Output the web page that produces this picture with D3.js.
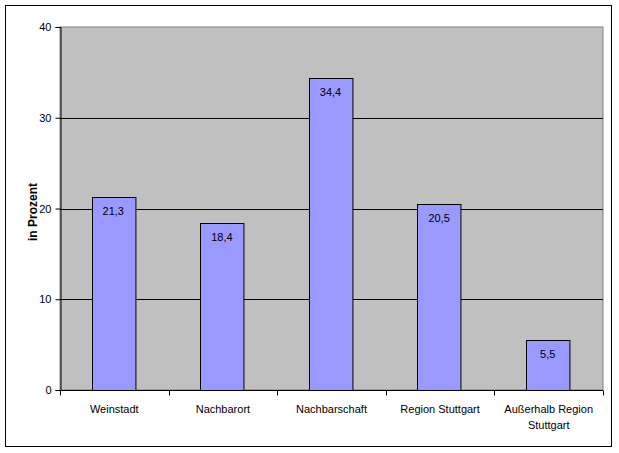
<!DOCTYPE html>
<html>
<head>
<meta charset="utf-8">
<script src="https://cdn.jsdelivr.net/npm/d3@7"></script>
<style>
  body { margin: 0; background: #fff; }
  svg text { font-family: "Liberation Sans", Arial, sans-serif; }
</style>
</head>
<body>
<div id="chart"></div>
<script>
// Chart data
const categories = ['Weinstadt', 'Nachbarort', 'Nachbarschaft', 'Region Stuttgart', 'Außerhalb Region|Stuttgart'];
const values = [21.3, 18.4, 34.4, 20.5, 5.5];
const yTicks = [0, 10, 20, 30, 40];

const W = 619, H = 453;
const plot = {left: 60, top: 27, right: 603, bottom: 390};

const svg = d3.select('#chart')
    .append('svg')
    .attr('width', W)
    .attr('height', H);

// Outer frame
svg.append('rect')
    .attr('x', 5.5).attr('y', 5.5)
    .attr('width', 606).attr('height', 441)
    .attr('fill', '#fff')
    .attr('stroke', '#000')
    .attr('stroke-width', 1);

const x = d3.scaleBand()
    .domain(categories)
    .range([plot.left, plot.right])
    .paddingInner(0.6)
    .paddingOuter(0.3);

const xOuter = d3.scaleBand()
    .domain(categories)
    .range([plot.left, plot.right]);

const y = d3.scaleLinear()
    .domain([0, 40])
    .range([plot.bottom, plot.top]);

// Plot background
svg.append('rect')
    .attr('x', plot.left).attr('y', plot.top)
    .attr('width', plot.right - plot.left)
    .attr('height', plot.bottom - plot.top)
    .attr('fill', '#C0C0C0')
    .attr('stroke', '#808080')
    .attr('stroke-width', 1);

// Gridlines
svg.append('g')
    .selectAll('line')
    .data(yTicks.filter(t => t > 0 && t < 40))
    .enter()
    .append('line')
    .attr('x1', plot.left).attr('x2', plot.right)
    .attr('y1', d => Math.round(y(d)) + 0.5)
    .attr('y2', d => Math.round(y(d)) + 0.5)
    .attr('stroke', '#000');

// Bars
svg.append('g')
    .selectAll('rect')
    .data(values)
    .enter()
    .append('rect')
    .attr('x', (d, i) => Math.round(x(categories[i])) - 0.5)
    .attr('y', d => Math.round(y(d)) + 0.5)
    .attr('width', x.bandwidth())
    .attr('height', d => Math.round(y(0)) - Math.round(y(d)))
    .attr('fill', '#9999FF')
    .attr('stroke', '#000')
    .attr('stroke-width', 1);

// Value labels
svg.append('g')
    .selectAll('text')
    .data(values)
    .enter()
    .append('text')
    .attr('x', (d, i) => x(categories[i]) + x.bandwidth() / 2 - 1)
    .attr('y', d => y(d) + 18)
    .attr('text-anchor', 'middle')
    .style('font-size', '11px')
    .text(d => String(d).replace('.', ','));

// Y axis
const yAxis = d3.axisLeft(y)
    .tickValues(yTicks)
    .tickSize(5)
    .tickPadding(4);

const gy = svg.append('g')
    .attr('transform', `translate(${plot.left + 0.5},0)`)
    .call(yAxis);
gy.select('.domain').attr('stroke', '#000');
gy.selectAll('text').style('font-size', '11px').style('font-family', '"Liberation Sans", Arial, sans-serif');

// X axis
const gx = svg.append('g')
    .attr('transform', `translate(0,${plot.bottom + 0.5})`);
gx.append('line')
    .attr('x1', plot.left).attr('x2', plot.right)
    .attr('stroke', '#000');
gx.selectAll('.tick')
    .data(categories.map((c, i) => i === 0 ? plot.left : xOuter(c)).concat([plot.right]))
    .enter()
    .append('line')
    .attr('x1', d => Math.round(d) + 0.5)
    .attr('x2', d => Math.round(d) + 0.5)
    .attr('y1', 0).attr('y2', 5)
    .attr('stroke', '#000');

const labels = gx.selectAll('text.cat')
    .data(categories)
    .enter()
    .append('text')
    .attr('class', 'cat')
    .attr('text-anchor', 'middle')
    .attr('x', d => xOuter(d) + xOuter.bandwidth() / 2)
    .attr('y', 22)
    .style('font-size', '11px');
labels.each(function(d) {
    const parts = d.split('|');
    parts.forEach((p, i) => {
        d3.select(this).append('tspan')
            .attr('x', xOuter(d) + xOuter.bandwidth() / 2)
            .attr('dy', i === 0 ? 0 : 16)
            .text(p);
    });
});

// Y axis title
svg.append('text')
    .attr('transform', 'translate(37,212) rotate(-90)')
    .attr('text-anchor', 'middle')
    .style('font-size', '12px')
    .style('font-weight', 'bold')
    .text('in Prozent');
</script>
</body>
</html>
